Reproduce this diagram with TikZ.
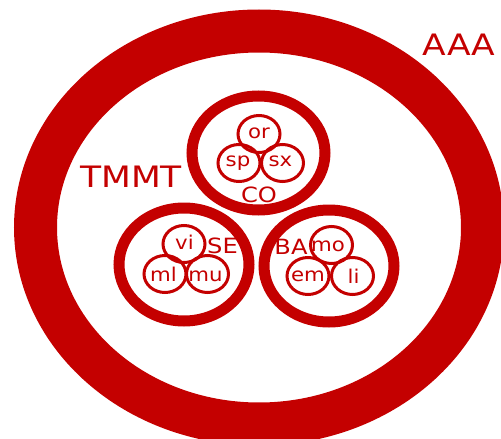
\documentclass[tikz,border=0pt]{standalone}
\usepackage{fontspec}
\setmainfont{DejaVu Sans}
\definecolor{ringred}{RGB}{196,0,0}
\tikzset{
  bigring/.style={draw=ringred, line width=43pt},
  midring/.style={draw=ringred, line width=11pt},
  smallring/.style={draw=ringred, line width=3pt},
  smalllbl/.style={text=ringred, anchor=base, inner sep=0pt, xscale=1.12, font=\fontsize{19}{19}\selectfont},
  midlbl/.style={text=ringred, anchor=base, inner sep=0pt, xscale=1.15, font=\fontsize{21}{21}\selectfont},
  biglbl/.style={text=ringred, anchor=base, inner sep=0pt, xscale=1.17, font=\fontsize{29.5}{29.5}\selectfont},
}
\begin{document}
\begin{tikzpicture}[x=1pt,y=-1pt]
\useasboundingbox (0,0) rectangle (501,439);
% labels
\node[biglbl] (aaa) at (459,55) {AAA};
\node[biglbl] (tmmt) at (131,187) {TMMT};
\node[midlbl] (co) at (259,202) {CO};
\node[midlbl] (se) at (222.5,253.5) {SE};
\node[midlbl] (ba) at (291,254.5) {BA};
\node[smalllbl] (or) at (259,138.5) {or};
\node[smalllbl] (sp) at (238,166) {sp};
\node[smalllbl] (sx) at (280.5,166) {sx};
\node[smalllbl] (vi) at (184.5,249) {vi};
\node[smalllbl] (ml) at (163.5,281.5) {ml};
\node[smalllbl] (mu) at (205.5,281.5) {mu};
\node[smalllbl] (mo) at (328,251.5) {mo};
\node[smalllbl] (em) at (308,281.5) {em};
\node[smalllbl] (li) at (353.5,283) {li};
% outer ring
\draw[bigring] (259,227.5) ellipse [x radius=223.5, y radius=196.5];
% middle rings
\draw[midring] (258.5,153) ellipse [x radius=66.5, y radius=57];
\draw[midring] (184,264.5) ellipse [x radius=65, y radius=56.5];
\draw[midring] (329,266) ellipse [x radius=65, y radius=56];
% small rings
\foreach \cx/\cy in {259/134, 239/163, 282.5/163,
                     184/244, 165/274, 207.5/274,
                     331.5/245, 308/276, 352.5/276}
  \draw[smallring] (\cx,\cy) ellipse [x radius=21, y radius=18.5];
\end{tikzpicture}
\end{document}
